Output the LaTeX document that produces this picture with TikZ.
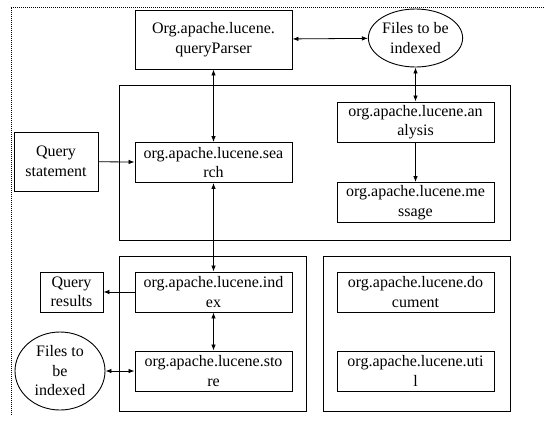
\documentclass[tikz,border=0pt]{standalone}
\usepackage{fontspec}
\setmainfont{Liberation Serif}
\usepackage{tikz}
\usetikzlibrary{shapes,arrows,positioning,calc,arrows.meta}

\begin{document}
\begin{tikzpicture}[x=1pt,y=-1pt,
    pkg/.style={draw,line width=0.9pt,minimum width=157pt,minimum height=40pt,
                inner sep=1pt,align=center,font=\fontsize{16}{19.5}\selectfont},
    src/.style={draw,ellipse,line width=0.9pt,inner sep=0pt,align=center,
                font=\fontsize{16}{19.5}\selectfont},
    group/.style={draw,line width=0.9pt,inner sep=0pt},
    link/.style={line width=0.8pt,-{Latex[length=6pt,width=4.5pt]}},
    both/.style={line width=0.8pt,{Latex[length=6pt,width=4.5pt]}-{Latex[length=6pt,width=4.5pt]}}]
    \useasboundingbox (0,0) rectangle (545,421);
    % outer dotted frame
    \draw[line width=0.7pt,dash pattern=on 1pt off 1pt] (11,415) -- (11,7) -- (545,7);
    % package groups
    \node[group,minimum width=391pt,minimum height=155pt] (upper) at (314.5,162.5) {};
    \node[group,minimum width=187pt,minimum height=155pt] (lowleft) at (212.5,334) {};
    \node[group,minimum width=187pt,minimum height=155pt] (lowright) at (416.5,334) {};
    % packages
    \node[pkg,minimum height=59pt] (parser) at (213.5,39.5) {Org.apache.lucene.\\queryParser};
    \node[src,minimum width=94pt,minimum height=58pt] (filestop) at (415.5,38) {Files to be\\indexed};
    \node[pkg] (analysis) at (415.5,122) {org.apache.lucene.an\\alysis};
    \node[pkg] (search) at (213.5,162.5) {org.apache.lucene.sea\\rch};
    \node[pkg] (message) at (415.5,202.5) {org.apache.lucene.me\\ssage};
    \node[pkg,minimum width=84pt,minimum height=59pt] (statement) at (56,161.5) {Query\\statement};
    \node[pkg] (index) at (213.5,292) {org.apache.lucene.ind\\ex};
    \node[pkg] (store) at (213.5,371) {org.apache.lucene.sto\\re};
    \node[pkg,minimum width=63pt] (results) at (71.5,292) {Query\\results};
    \node[src,minimum width=90pt,minimum height=78pt] (filesleft) at (60,371) {Files to\\be\\indexed};
    \node[pkg] (document) at (415.5,292) {org.apache.lucene.do\\cument};
    \node[pkg] (util) at (415.5,371) {org.apache.lucene.uti\\l};
    % connectors
    \draw[both] (parser) -- (filestop);
    \draw[both] (filestop) -- (analysis);
    \draw[link] (analysis) -- (message);
    \draw[both] (parser) -- (search);
    \draw[link] (statement) -- (search);
    \draw[both] (search) -- (index);
    \draw[link] (index) -- (results);
    \draw[both] (index) -- (store);
    \draw[both] (filesleft) -- (store);
\end{tikzpicture}
\end{document}
